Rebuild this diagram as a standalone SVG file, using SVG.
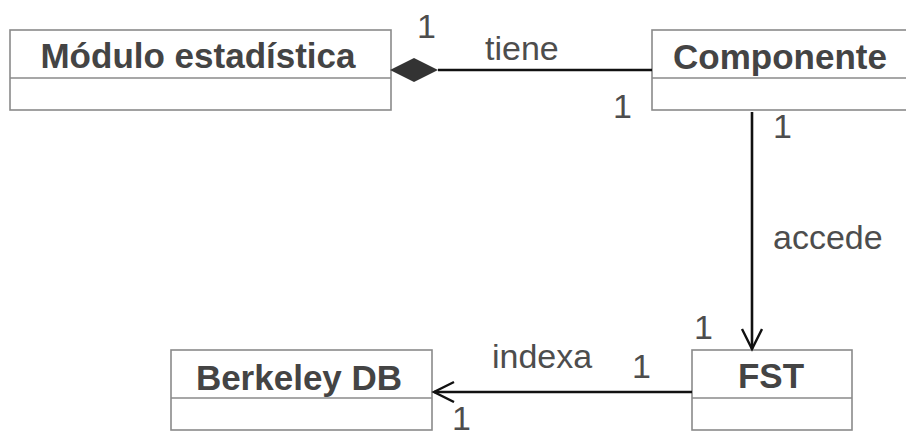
<svg xmlns="http://www.w3.org/2000/svg" width="906" height="438" viewBox="0 0 906 438">
  <style>
    .box { fill: #ffffff; stroke: #8a8a8a; stroke-width: 1.6; }
    .div { stroke: #8a8a8a; stroke-width: 1.4; }
    .title { font-family: "Liberation Sans", Arial, sans-serif; font-weight: bold; font-size: 35px; fill: #444444; text-anchor: middle; }
    .lbl { font-family: "Liberation Sans", Arial, sans-serif; font-size: 34px; fill: #4d4d4d; }
    .edge { stroke: #111111; stroke-width: 2.6; fill: none; }
  </style>
  <defs>
    <marker id="open" markerUnits="userSpaceOnUse" markerWidth="24" markerHeight="26" refX="21" refY="11" orient="auto">
      <path d="M1,1 L21,11 L1,21" fill="none" stroke="#111111" stroke-width="2.4"/>
    </marker>
  </defs>

  <rect width="906" height="438" fill="#ffffff"/>

  <g id="modulo">
    <rect class="box" x="10" y="30" width="381" height="80"/>
    <line class="div" x1="10" y1="78" x2="391" y2="78"/>
    <text class="title" x="198" y="68">Módulo estadística</text>
  </g>

  <g id="componente">
    <rect class="box" x="652" y="30" width="256" height="80"/>
    <line class="div" x1="652" y1="78" x2="908" y2="78"/>
    <text class="title" x="780" y="69">Componente</text>
  </g>

  <g id="berkeley">
    <rect class="box" x="171" y="350" width="261" height="80"/>
    <line class="div" x1="171" y1="398" x2="432" y2="398"/>
    <text class="title" x="299" y="390">Berkeley DB</text>
  </g>

  <g id="fst">
    <rect class="box" x="692" y="350" width="160" height="80"/>
    <line class="div" x1="692" y1="398" x2="852" y2="398"/>
    <text class="title" x="771" y="388">FST</text>
  </g>

  <g id="connectors">
    <!-- composition: Módulo estadística has Componente -->
    <line class="edge" x1="438" y1="70" x2="652" y2="70"/>
    <polygon points="390,70 414,58 438,70 414,82" fill="#333333"/>
    <!-- Componente accesses FST -->
    <line class="edge" x1="752" y1="112" x2="752" y2="349" marker-end="url(#open)"/>
    <!-- FST indexes Berkeley DB -->
    <line class="edge" x1="692" y1="392" x2="434" y2="392" marker-end="url(#open)"/>
  </g>

  <g id="labels">
    <text class="lbl" x="485" y="60">tiene</text>
    <text class="lbl" x="773" y="249">accede</text>
    <text class="lbl" x="492" y="368">indexa</text>
    <text class="lbl" x="417" y="38">1</text>
    <text class="lbl" x="613" y="118">1</text>
    <text class="lbl" x="773" y="138">1</text>
    <text class="lbl" x="694" y="339">1</text>
    <text class="lbl" x="632" y="378">1</text>
    <text class="lbl" x="452" y="430">1</text>
  </g>
</svg>
